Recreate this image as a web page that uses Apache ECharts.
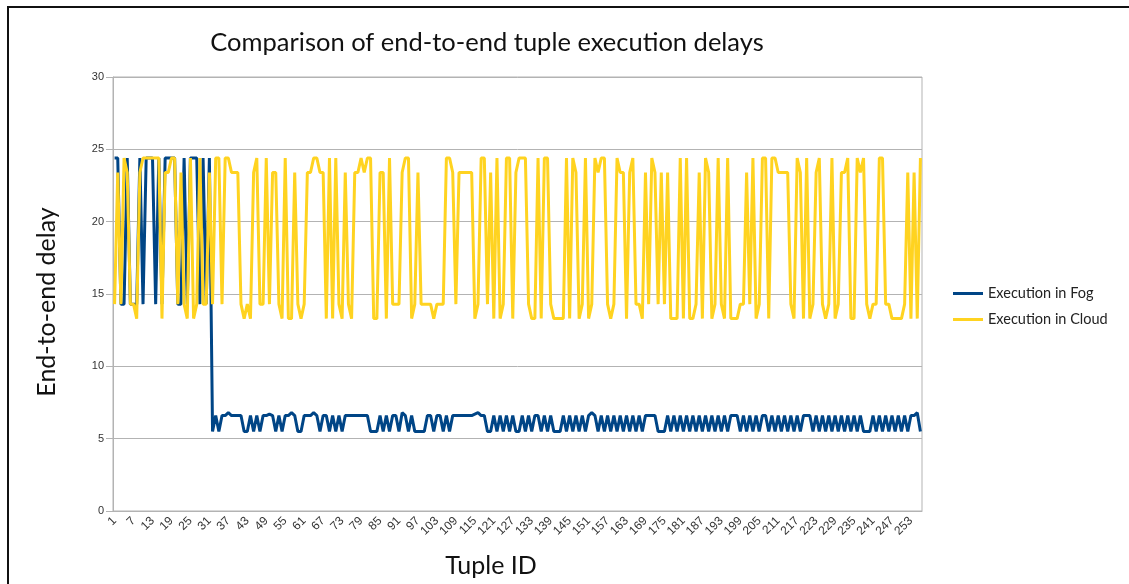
<!DOCTYPE html>
<html>
<head>
<meta charset="utf-8">
<script src="https://cdn.jsdelivr.net/npm/echarts@6/dist/echarts.min.js"></script>
<style>
  html, body { margin: 0; padding: 0; background: #fff; }
  #chart { width: 1129px; height: 584px; }
</style>
</head>
<body>
<div id="chart"></div>
<script>
// tuple ids 1..256
var tupleIds = [];
for (var i = 1; i <= 256; i++) tupleIds.push(String(i));

var fogDelay = [
  24.4, 24.4, 14.3, 14.3, 24.4, 14.3, 14.3, 14.3, 24.4, 14.3,
  24.4, 24.4, 24.4, 14.3, 24.4, 14.3, 24.4, 24.4, 24.4, 24.4,
  14.3, 14.3, 24.4, 14.3, 24.4, 24.4, 24.4, 14.3, 24.4, 14.3,
  24.4,
  5.5, 6.6, 5.5, 6.6, 6.6, 6.8, 6.6, 6.6, 6.6, 6.6,
  5.5, 5.5, 6.6, 5.5, 6.6, 5.5, 6.6, 6.6, 6.7, 6.6,
  5.5, 6.6, 5.5, 6.6, 6.6, 6.8, 6.6, 5.5, 5.5, 6.6,
  6.6, 6.6, 6.8, 6.6, 5.5, 6.6, 6.6, 5.5, 6.6, 5.5,
  6.6, 5.5, 6.6, 6.6, 6.6, 6.6, 6.6, 6.6, 6.6, 6.6,
  5.5, 5.5, 5.5, 6.6, 5.5, 6.6, 5.5, 6.6, 6.6, 5.5,
  6.8, 6.6, 5.5, 6.6, 5.5, 5.5, 5.5, 5.5, 6.6, 6.6,
  5.5, 6.6, 6.6, 5.5, 6.6, 5.5, 6.6, 6.6, 6.6, 6.6,
  6.6, 6.6, 6.6, 6.7, 6.8, 6.6, 6.6, 5.5, 5.5, 6.6,
  5.5, 6.6, 5.5, 6.6, 5.5, 6.6, 5.5, 5.5, 6.6, 5.5,
  6.6, 5.5, 6.6, 6.6, 5.5, 6.6, 5.5, 6.6, 5.5, 5.5,
  5.5, 6.6, 5.5, 6.6, 5.5, 6.6, 5.5, 6.6, 5.5, 6.6,
  6.8, 6.6, 5.5, 6.6, 5.5, 6.6, 5.5, 6.6, 5.5, 6.6,
  5.5, 6.6, 5.5, 6.6, 5.5, 6.6, 5.5, 6.6, 6.6, 6.6,
  6.6, 5.5, 5.5, 5.5, 6.6, 5.5, 6.6, 5.5, 6.6, 5.5,
  6.6, 5.5, 6.6, 5.5, 6.6, 5.5, 6.6, 5.5, 6.6, 5.5,
  6.6, 5.5, 6.6, 5.5, 6.6, 6.6, 6.6, 5.5, 6.6, 5.5,
  6.6, 5.5, 6.6, 5.5, 6.6, 6.6, 5.5, 6.6, 5.5, 6.6,
  5.5, 6.6, 5.5, 6.6, 5.5, 6.6, 5.5, 6.6, 6.6, 6.6,
  5.5, 6.6, 5.5, 6.6, 5.5, 6.6, 5.5, 6.6, 5.5, 6.6,
  5.5, 6.6, 5.5, 6.6, 5.5, 6.6, 5.5, 5.5, 5.5, 6.6,
  5.5, 6.6, 5.5, 6.6, 5.5, 6.6, 5.5, 6.6, 5.5, 6.6,
  5.5, 6.6, 6.6, 6.8, 5.5
];

var cloudDelay = [
  14.3, 23.4, 14.3, 24.4, 23.4, 14.3, 14.3, 13.3, 23.4, 24.4,
  24.4, 24.4, 24.4, 24.4, 24.4, 13.3, 23.4, 23.4, 24.4, 24.4,
  14.3, 23.4, 14.3, 13.3, 24.4, 13.3, 14.3, 24.4, 14.3, 14.3,
  23.4, 14.3, 24.4, 24.4, 14.3, 24.4, 24.4, 23.4, 23.4, 23.4,
  14.3, 13.3, 14.3, 13.3, 23.4, 24.4, 14.3, 14.3, 24.4, 14.3,
  23.4, 23.4, 14.3, 13.3, 24.4, 13.3, 13.3, 23.4, 14.3, 13.3,
  14.3, 23.4, 23.4, 24.4, 24.4, 23.4, 23.4, 13.3, 24.4, 13.3,
  24.4, 14.3, 13.3, 23.4, 14.3, 13.3, 23.4, 23.4, 24.4, 23.4,
  24.4, 24.4, 13.3, 13.3, 23.4, 23.4, 13.3, 24.4, 14.3, 14.3,
  14.3, 23.4, 24.4, 24.4, 13.3, 14.3, 23.4, 14.3, 14.3, 14.3,
  14.3, 13.3, 14.3, 14.3, 14.3, 24.4, 24.4, 23.4, 14.3, 23.4,
  23.4, 23.4, 23.4, 23.4, 13.3, 14.3, 24.4, 24.4, 14.3, 23.4,
  13.3, 24.4, 13.3, 14.3, 24.4, 24.4, 13.3, 23.4, 24.4, 24.4,
  24.4, 14.3, 13.3, 13.3, 24.4, 13.3, 24.4, 24.4, 14.3, 13.3,
  13.3, 13.3, 13.3, 24.4, 13.3, 24.4, 23.4, 13.3, 14.3, 24.4,
  13.3, 14.3, 24.4, 23.4, 24.4, 24.4, 14.3, 13.3, 14.3, 24.4,
  23.4, 23.4, 13.3, 23.4, 24.4, 14.3, 14.3, 13.3, 23.4, 14.3,
  24.4, 23.4, 14.3, 23.4, 14.3, 23.4, 13.3, 13.3, 13.3, 24.4,
  13.3, 24.4, 13.3, 13.3, 14.3, 23.4, 13.3, 24.4, 23.4, 13.3,
  14.3, 24.4, 14.3, 13.3, 24.4, 13.3, 13.3, 13.3, 14.3, 14.3,
  23.4, 14.3, 24.4, 13.3, 14.3, 24.4, 24.4, 13.3, 24.4, 24.4,
  23.4, 23.4, 23.4, 23.4, 14.3, 13.3, 24.4, 23.4, 13.3, 24.4,
  13.3, 14.3, 23.4, 24.4, 14.3, 13.3, 14.3, 24.4, 13.3, 14.3,
  23.4, 23.4, 24.4, 13.3, 13.3, 24.4, 23.4, 24.4, 14.3, 13.3,
  14.3, 14.3, 24.4, 24.4, 14.3, 14.3, 13.3, 13.3, 13.3, 13.3,
  14.3, 23.4, 13.3, 23.4, 13.3, 24.4
];

var chart = echarts.init(document.getElementById('chart'));

var font = 'Lato, "Liberation Sans", sans-serif';

var option = {
  animation: false,
  backgroundColor: '#fff',
  title: {
    text: 'Comparison of end-to-end tuple execution delays',
    left: 482,
    top: 25,
    textAlign: 'center',
    textStyle: { fontFamily: font, fontSize: 25.5, fontWeight: 'normal', color: '#111' }
  },
  graphic: [
    {
      type: 'rect',
      shape: { x: 8, y: 7, width: 1140, height: 600 },
      style: { fill: 'none', stroke: '#111', lineWidth: 2 },
      silent: true
    },
    {
      // axis names, placed by hand like the original
      type: 'text',
      x: 491,
      y: 566,
      style: {
        text: 'Tuple ID',
        font: '25px Lato, "Liberation Sans", sans-serif',
        fill: '#111',
        align: 'center',
        verticalAlign: 'middle'
      }
    },
    {
      type: 'text',
      x: 47,
      y: 302,
      rotation: Math.PI / 2,
      style: {
        text: 'End-to-end delay',
        font: '25px Lato, "Liberation Sans", sans-serif',
        fill: '#111',
        align: 'center',
        verticalAlign: 'middle'
      }
    }
  ],
  legend: {
    orient: 'vertical',
    left: 948,
    top: 281,
    itemWidth: 30,
    itemHeight: 3,
    itemGap: 11,
    icon: 'rect',
    textStyle: { fontFamily: font, fontSize: 14.5, color: '#222' },
    data: ['Execution in Fog', 'Execution in Cloud']
  },
  grid: {
    left: 113,
    right: 207,
    top: 77,
    bottom: 73,
    show: true,
    borderColor: '#b3b3b3',
    borderWidth: 1,
    containLabel: false
  },
  xAxis: {
    type: 'category',
    data: tupleIds,
    boundaryGap: true,
    axisLine: { lineStyle: { color: '#b3b3b3' } },
    axisTick: { interval: 0, length: 5, lineStyle: { color: '#b3b3b3' } },
    axisLabel: {
      interval: 5,
      rotate: 45,
      fontSize: 12,
      fontFamily: '"Liberation Sans", sans-serif',
      color: '#333',
      margin: 8
    },
    splitLine: { show: false }
  },
  yAxis: {
    type: 'value',
    min: 0,
    max: 30,
    interval: 5,
    axisLine: { show: true, lineStyle: { color: '#b3b3b3' } },
    axisTick: { show: true, length: 7, lineStyle: { color: '#b3b3b3' } },
    axisLabel: {
      fontSize: 11,
      fontFamily: '"Liberation Sans", sans-serif',
      color: '#333',
      margin: 9
    },
    splitLine: { lineStyle: { color: '#b3b3b3', width: 1 } }
  },
  series: [
    {
      name: 'Execution in Fog',
      type: 'line',
      data: fogDelay,
      showSymbol: false,
      symbol: 'none',
      color: '#004586',
      lineStyle: { width: 3, color: '#004586' }
    },
    {
      name: 'Execution in Cloud',
      type: 'line',
      data: cloudDelay,
      showSymbol: false,
      symbol: 'none',
      color: '#ffd320',
      lineStyle: { width: 3, color: '#ffd320' }
    }
  ]
};

chart.setOption(option);
</script>
</body>
</html>
